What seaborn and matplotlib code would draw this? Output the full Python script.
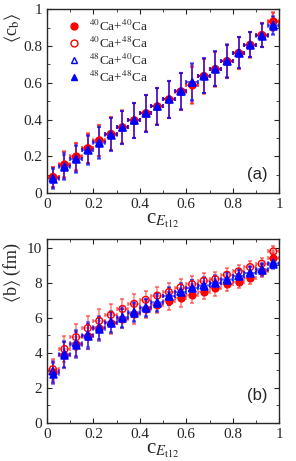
import numpy as np
import pandas as pd
import seaborn as sns
import matplotlib.pyplot as plt
from matplotlib.ticker import MultipleLocator

# bin centres of c_Et12
x_bins = [0.025, 0.075, 0.125, 0.175, 0.225, 0.275, 0.325, 0.375, 0.425, 0.475,
          0.525, 0.575, 0.625, 0.675, 0.725, 0.775, 0.825, 0.875, 0.925, 0.975]
x_half = 0.025

labels = [r"$^{40}$Ca+$^{40}$Ca", r"$^{40}$Ca+$^{48}$Ca",
          r"$^{48}$Ca+$^{40}$Ca", r"$^{48}$Ca+$^{48}$Ca"]

# panel (a): <c_b>
cb_4040 = [0.089, 0.158, 0.200, 0.246, 0.288, 0.324, 0.360, 0.397, 0.436, 0.474,
           0.511, 0.554, 0.587, 0.636, 0.674, 0.717, 0.762, 0.808, 0.859, 0.936]
cb_4048 = [0.088, 0.155, 0.198, 0.244, 0.286, 0.322, 0.358, 0.396, 0.434, 0.472,
           0.510, 0.552, 0.590, 0.637, 0.675, 0.718, 0.762, 0.807, 0.860, 0.932]
cb_4840 = [0.082, 0.146, 0.188, 0.236, 0.276, 0.320, 0.358, 0.396, 0.434, 0.472,
           0.511, 0.554, 0.602, 0.638, 0.676, 0.718, 0.763, 0.808, 0.858, 0.915]
cb_4848 = [0.078, 0.140, 0.183, 0.232, 0.272, 0.318, 0.357, 0.396, 0.434, 0.472,
           0.511, 0.555, 0.605, 0.638, 0.677, 0.719, 0.763, 0.808, 0.857, 0.909]
err_a = [0.055, 0.07, 0.075, 0.08, 0.085, 0.09, 0.09, 0.095, 0.1, 0.1,
         0.1, 0.1, 0.1, 0.095, 0.095, 0.09, 0.085, 0.07, 0.065, 0.05]

# panel (b): <b> (fm)
b_4040 = [2.90, 3.90, 4.50, 4.95, 5.40, 5.68, 5.95, 6.20, 6.48, 6.75,
          6.97, 7.12, 7.31, 7.50, 7.69, 7.92, 8.07, 8.30, 8.65, 9.41]
b_4048 = [3.07, 4.22, 4.90, 5.41, 5.83, 6.17, 6.51, 6.80, 7.03, 7.27,
          7.47, 7.73, 7.92, 8.11, 8.21, 8.46, 8.65, 8.90, 9.09, 9.79]
b_4840 = [2.95, 3.95, 4.55, 5.05, 5.45, 5.78, 6.05, 6.35, 6.60, 6.90,
          7.25, 7.50, 7.72, 7.86, 8.00, 8.20, 8.40, 8.58, 8.78, 9.15]
b_4848 = [2.80, 3.89, 4.46, 4.95, 5.35, 5.73, 5.98, 6.30, 6.55, 6.84,
          7.22, 7.45, 7.69, 7.83, 7.98, 8.17, 8.36, 8.55, 8.74, 9.09]
err_b = [0.6, 0.75, 0.75, 0.7, 0.65, 0.6, 0.55, 0.55, 0.5, 0.5,
         0.5, 0.48, 0.45, 0.45, 0.42, 0.4, 0.38, 0.36, 0.34, 0.3]

sns.set_style("ticks")
plt.rcParams["font.family"] = ["Liberation Serif", "DejaVu Serif"]
plt.rcParams["mathtext.fontset"] = "stix"

styles = [
    dict(color="red", marker="o", filled=True, s=24),
    dict(color="red", marker="o", filled=False, s=24),
    dict(color="blue", marker="^", filled=False, s=26),
    dict(color="blue", marker="^", filled=True, s=26),
]


def draw_panel(ax, series, err):
    for vals, st, lab in zip(series, styles, labels):
        df = pd.DataFrame({"x": x_bins, "y": vals})
        ax.errorbar(df["x"], df["y"], xerr=x_half, yerr=err, fmt="none",
                    ecolor=st["color"], alpha=0.45, elinewidth=1.2,
                    capsize=1.5, capthick=1.5, zorder=2)
        fc = st["color"] if st["filled"] else "none"
        sns.scatterplot(data=df, x="x", y="y", ax=ax, marker=st["marker"],
                        s=st["s"], facecolor=fc, edgecolor=st["color"],
                        linewidth=1.0, label=lab, zorder=3, legend=False)
    ax.set_xlim(0, 1)
    ax.xaxis.set_major_locator(MultipleLocator(0.2))
    ax.xaxis.set_minor_locator(MultipleLocator(0.1))
    ax.tick_params(which="both", direction="in", top=True, right=True,
                   labelsize=11)
    ax.tick_params(which="major", length=3.5)
    ax.tick_params(which="minor", length=2)
    ax.set_xticks([0, 0.2, 0.4, 0.6, 0.8, 1])
    ax.set_xticklabels(["0", "0.2", "0.4", "0.6", "0.8", "1"])
    ax.set_xlabel(r"c$_{E_{\rm t12}}$", fontsize=15, labelpad=0)
    for sp in ax.spines.values():
        sp.set_linewidth(1.0)


fig = plt.figure(figsize=(2.96, 4.61), dpi=100)
ax1 = fig.add_axes([0.159, 0.581, 0.784, 0.399])
ax2 = fig.add_axes([0.159, 0.0824, 0.784, 0.3992])

draw_panel(ax1, [cb_4040, cb_4048, cb_4840, cb_4848], err_a)
ax1.set_ylim(0, 1)
ax1.yaxis.set_major_locator(MultipleLocator(0.2))
ax1.yaxis.set_minor_locator(MultipleLocator(0.1))
ax1.set_yticks([0, 0.2, 0.4, 0.6, 0.8, 1])
ax1.set_yticklabels(["0", "0.2", "0.4", "0.6", "0.8", "1"])
ax1.set_ylabel(r"$\langle$c$_{\rm b}\rangle$", fontsize=13, labelpad=2)
ax1.yaxis.set_label_coords(-0.105, 0.9)
ax1.text(0.95, 0.1, "(a)", transform=ax1.transAxes, ha="right", va="center",
         fontsize=12, family="Liberation Sans")

handles = []
for st, lab in zip(styles, labels):
    fc = st["color"] if st["filled"] else "none"
    h = plt.Line2D([], [], linestyle="none", marker=st["marker"], markersize=5,
                   markerfacecolor=fc, markeredgecolor=st["color"], label=lab)
    handles.append(h)
ax1.legend(handles=handles, loc="upper left", frameon=False, fontsize=9.5,
           handletextpad=0.1, labelspacing=0.15, borderaxespad=0.3,
           bbox_to_anchor=(0.02, 1.0))

draw_panel(ax2, [b_4040, b_4048, b_4840, b_4848], err_b)
ax2.set_ylim(0, 10.5)
ax2.yaxis.set_major_locator(MultipleLocator(2))
ax2.yaxis.set_minor_locator(MultipleLocator(1))
ax2.set_ylabel(r"$\langle$b$\rangle$ (fm)", fontsize=13, labelpad=2)
ax2.yaxis.set_label_coords(-0.105, 0.82)
ax2.text(0.95, 0.15, "(b)", transform=ax2.transAxes, ha="right", va="center",
         fontsize=12, family="Liberation Sans")

fig.savefig("out.png", dpi=100)
